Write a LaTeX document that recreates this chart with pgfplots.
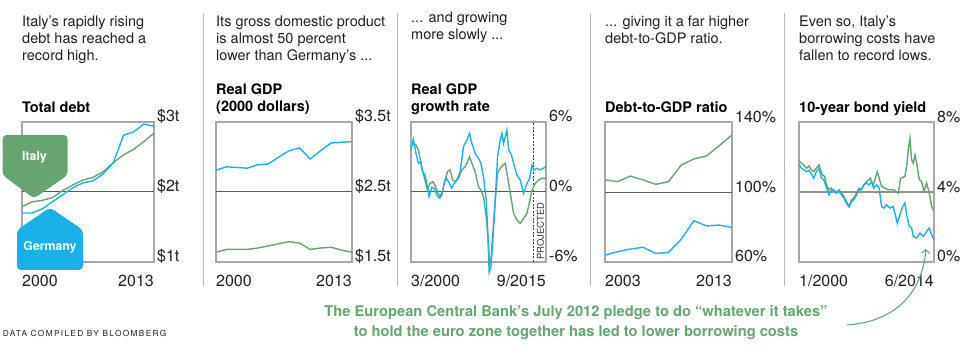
\documentclass[border=0pt]{standalone}
\usepackage{fontspec}
\setmainfont{TeX Gyre Heros}
\newfontfamily\footfont{TeX Gyre Heros}[LetterSpace=16]
\usepackage{pgfplots}
\pgfplotsset{compat=1.18}
\usetikzlibrary{arrows.meta}
\definecolor{itgreen}{HTML}{66A571}
\definecolor{deblue}{HTML}{19B2E8}
\definecolor{framegray}{HTML}{A8A8A8}
\definecolor{midgray}{HTML}{5A5A5A}
\definecolor{sepgray}{HTML}{B8B8B8}
\definecolor{txt}{HTML}{1E1E1E}
\newcommand\hdr{\fontsize{14.5}{17}\selectfont}
\newcommand\tickf{\fontsize{16}{16}\selectfont}
\newcommand\hl[3]{\node[anchor=base west,inner sep=0pt,font=\hdr,text=txt] at (#1pt,#2pt) {#3};}
\newcommand\bl[3]{\node[anchor=base west,inner sep=0pt,font=\hdr\bfseries,text=black] at (#1pt,#2pt) {#3};}
\pgfplotsset{
 panel/.style={
  scale only axis, height=140pt, anchor=south west,
  axis line style={framegray, line width=1.2pt},
  ytick pos=right, yticklabel pos=right,
  major tick length=0pt, tick style={draw=none},
  yticklabel style={anchor=base west, inner sep=0pt, xshift=3pt, font=\tickf, text=txt},
  xticklabel style={anchor=base west, inner sep=0pt, yshift=-25pt, font=\tickf, text=txt},
  extra x tick style={xticklabel style={anchor=base east}},
  every axis plot/.append style={line width=1.4pt, no markers},
 }}
\begin{document}
\begin{tikzpicture}
\path[use as bounding box] (0pt,0pt) rectangle (970pt,-355pt);
% separators
\foreach \sx in {203,397,590,784} {\draw[sepgray, line width=1pt] (\sx pt,-13pt) -- (\sx pt,-286pt);}
% headers
\hl{22}{-26.5}{Italy’s rapidly rising}
\hl{22}{-43.5}{debt has reached a}
\hl{22}{-60.5}{record high.}
\hl{216}{-26.5}{Its gross domestic product}
\hl{216}{-43.5}{is almost 50 percent}
\hl{216}{-60.5}{lower than Germany’s ...}
\hl{411}{-22.5}{... and growing}
\hl{411}{-39.5}{more slowly ...}
\hl{605}{-26.5}{... giving it a far higher}
\hl{605}{-43.5}{debt-to-GDP ratio.}
\hl{799}{-26.5}{Even so, Italy’s}
\hl{799}{-43.5}{borrowing costs have}
\hl{799}{-60.5}{fallen to record lows.}
\bl{22}{-112.5}{Total debt}
\bl{216}{-94.5}{Real GDP}
\bl{216}{-111.5}{(2000 dollars)}
\bl{411}{-94.5}{Real GDP}
\bl{411}{-111.5}{growth rate}
\bl{605}{-112.5}{Debt-to-GDP ratio}
\bl{799}{-112.5}{10-year bond yield}

% Panel 1: total debt
\begin{axis}[panel, at={(22pt,-262pt)}, width=132pt,
 xmin=2000, xmax=2013, ymin=1, ymax=3,
 xtick={2000}, xticklabels={2000}, extra x ticks={2013}, extra x tick labels={2013},
 ytick={1,2,3}, yticklabels={\$1t,\$2t,\$3t}]
\draw[midgray, line width=1pt] (rel axis cs:0,0.5) -- (rel axis cs:1,0.5);
\addplot[itgreen] coordinates {(2000,1.79) (2001,1.86) (2002,1.88) (2003,1.92) (2004,2.02) (2005,2.10) (2006,2.17) (2007,2.21) (2008,2.29) (2009,2.42) (2010,2.53) (2011,2.61) (2012,2.72) (2013,2.84)};
\addplot[deblue] coordinates {(2000,1.70) (2001,1.70) (2002,1.76) (2003,1.86) (2004,1.96) (2005,2.06) (2006,2.13) (2007,2.16) (2008,2.26) (2009,2.42) (2010,2.81) (2011,2.86) (2012,2.97) (2013,2.94)};
\end{axis}

% Panel 2: real GDP
\begin{axis}[panel, at={(216pt,-262pt)}, width=136pt,
 xmin=2000, xmax=2013, ymin=1.5, ymax=3.5,
 xtick={2000}, xticklabels={2000}, extra x ticks={2013}, extra x tick labels={2013},
 ytick={1.5,2.5,3.5}, yticklabels={\$1.5t,\$2.5t,\$3.5t}]
\draw[midgray, line width=1pt] (rel axis cs:0,0.5) -- (rel axis cs:1,0.5);
\addplot[itgreen] coordinates {(2000,1.64) (2001,1.68) (2002,1.68) (2003,1.68) (2004,1.70) (2005,1.73) (2006,1.76) (2007,1.79) (2008,1.77) (2009,1.68) (2010,1.70) (2011,1.71) (2012,1.67) (2013,1.64)};
\addplot[deblue] coordinates {(2000,2.81) (2001,2.86) (2002,2.85) (2003,2.84) (2004,2.89) (2005,2.90) (2006,3.00) (2007,3.09) (2008,3.13) (2009,2.97) (2010,3.09) (2011,3.20) (2012,3.21) (2013,3.22)};
\end{axis}

% Panel 3: growth rate
\begin{axis}[panel, at={(411pt,-262pt)}, width=135pt, clip=false,
 xmin=2000, xmax=2017, ymin=-6, ymax=6,
 xtick={2000}, xticklabels={3/2000}, extra x ticks={2017}, extra x tick labels={9/2015},
 ytick={-6,0,6}, yticklabels={-6\%,0\%,6\%}]
\draw[midgray, line width=1pt] (rel axis cs:0,0.5) -- (rel axis cs:1,0.5);
\draw[black!75, line width=0.6pt, dash pattern=on 2pt off 1.5pt] (axis cs:2015.4,-6) -- (axis cs:2015.4,6);
\addplot[itgreen] coordinates {(2000.00,3.89) (2000.29,4.17) (2000.63,4.03) (2000.93,3.6) (2001.22,2.6) (2001.47,1.74) (2001.77,1.03) (2002.06,0.17) (2002.40,0.74) (2002.74,0.89) (2003.03,0.6) (2003.32,0.03) (2003.66,-0.4) (2004.00,0.17) (2004.29,1.03) (2004.59,1.74) (2004.92,1.89) (2005.26,1.03) (2005.56,0.89) (2005.98,1.17) (2006.40,1.89) (2006.82,2.17) (2007.11,2.6) (2007.37,3.03) (2007.66,2.46) (2008.08,1.74) (2008.50,0.46) (2008.80,0.17) (2009.13,-0.4) (2009.47,-2.11) (2009.72,-4.11) (2009.89,-6.26) (2010.06,-5.83) (2010.31,-3.54) (2010.61,-0.69) (2010.90,1.6) (2011.24,2.03) (2011.57,2.31) (2011.87,2.46) (2012.16,1.31) (2012.50,-0.11) (2012.92,-1.83) (2013.34,-2.4) (2013.76,-2.69) (2014.18,-2.26) (2014.60,-1.83) (2014.94,-0.83) (2015.24,0.17) (2015.66,0.74) (2016.08,1.03) (2016.50,1.17) (2017.00,1.17)};
\addplot[deblue] coordinates {(2000.00,3.6) (2000.29,4.51) (2000.63,3.31) (2000.93,2.46) (2001.22,2.6) (2001.47,1.74) (2001.77,1.46) (2001.98,0.74) (2002.27,-0.4) (2002.61,0.4) (2002.95,0.31) (2003.24,-0.26) (2003.58,-0.54) (2003.87,-0.26) (2004.17,0.74) (2004.46,1.17) (2004.84,0.74) (2005.13,0.31) (2005.43,0.74) (2005.77,1.03) (2006.19,1.74) (2006.61,3.89) (2007.03,4.46) (2007.37,5.03) (2007.66,4.17) (2008.08,3.31) (2008.50,2.89) (2008.80,2.46) (2009.13,1.31) (2009.47,-0.69) (2009.64,-2.97) (2009.85,-6.89) (2010.06,-6.4) (2010.31,-4.11) (2010.61,-0.69) (2010.90,3.03) (2011.24,4.46) (2011.45,5.03) (2011.66,4.17) (2011.87,4.74) (2012.08,5.31) (2012.29,3.6) (2012.58,3.31) (2012.92,2.46) (2013.34,1.46) (2013.76,1.03) (2014.18,-0.11) (2014.52,0.6) (2014.94,1.17) (2015.24,2.31) (2015.45,1.89) (2015.87,2.03) (2016.29,1.89) (2017.00,2.17)};
\node[rotate=90, anchor=west, inner sep=0pt, font=\fontsize{9.4}{9.4}\selectfont, text=black!80] at (rel axis cs:0.958,0.015) {PROJECTED};
\end{axis}

% Panel 4: debt-to-GDP
\begin{axis}[panel, at={(605pt,-262pt)}, width=127pt,
 xmin=2003, xmax=2013, ymin=60, ymax=140,
 xtick={2003}, xticklabels={2003}, extra x ticks={2013}, extra x tick labels={2013},
 ytick={60,100,140}, yticklabels={60\%,100\%,140\%}]
\draw[midgray, line width=1pt] (rel axis cs:0,0.5) -- (rel axis cs:1,0.5);
\addplot[itgreen] coordinates {(2003,106.9) (2004,105.9) (2005,109.1) (2006,106.9) (2007,104.4) (2008,105.9) (2009,115.4) (2010,118.9) (2011,120.6) (2012,126.5) (2013,132.6)};
\addplot[deblue] coordinates {(2003,64.0) (2004,65.9) (2005,67.4) (2006,68.4) (2007,64.9) (2008,65.5) (2009,73.0) (2010,83.6) (2011,80.6) (2012,81.1) (2013,79.8)};
\end{axis}

% Panel 5: bond yield
\begin{axis}[panel, at={(799pt,-262pt)}, width=135pt,
 xmin=2000, xmax=2015, ymin=0, ymax=8,
 xtick={2000}, xticklabels={1/2000}, extra x ticks={2015}, extra x tick labels={6/2014},
 ytick={0,4,8}, yticklabels={0\%,4\%,8\%}]
\draw[gray!85, line width=1.3pt] (rel axis cs:0,0.5) -- (rel axis cs:1,0.5);
\addplot[itgreen] coordinates {(2000.00,5.80) (2000.26,5.65) (2000.52,5.55) (2000.82,5.36) (2001.11,5.49) (2001.37,5.27) (2001.63,5.17) (2001.93,5.36) (2002.23,5.55) (2002.38,5.27) (2002.60,4.98) (2002.86,4.89) (2003.04,4.41) (2003.34,4.13) (2003.60,4.22) (2003.86,4.03) (2004.16,3.94) (2004.46,4.13) (2004.72,3.94) (2004.98,3.75) (2005.27,3.46) (2005.57,3.17) (2005.83,3.56) (2006.09,3.65) (2006.39,3.94) (2006.68,4.22) (2006.94,4.13) (2007.20,4.41) (2007.50,4.60) (2007.80,4.71) (2007.95,4.79) (2008.24,4.32) (2008.54,4.89) (2008.69,5.17) (2008.91,4.79) (2009.17,4.32) (2009.54,4.22) (2009.91,4.13) (2010.47,4.13) (2011.03,3.94) (2011.29,4.79) (2011.77,4.89) (2011.96,5.46) (2012.14,6.41) (2012.33,7.07) (2012.51,5.84) (2012.70,5.65) (2012.89,6.12) (2013.07,5.65) (2013.37,4.71) (2013.63,4.60) (2013.89,4.03) (2014.18,4.51) (2014.48,3.94) (2014.74,3.17) (2015.00,2.89)};
\addplot[deblue] coordinates {(2000.00,5.61) (2000.26,5.36) (2000.52,5.27) (2000.82,5.17) (2001.11,5.23) (2001.37,5.04) (2001.63,4.79) (2001.93,5.17) (2002.23,5.36) (2002.49,4.79) (2002.75,4.71) (2003.04,4.28) (2003.34,3.84) (2003.60,4.09) (2003.86,4.13) (2004.16,3.94) (2004.46,4.03) (2004.72,3.84) (2004.98,3.65) (2005.27,3.37) (2005.57,3.14) (2005.83,3.46) (2006.09,3.56) (2006.39,3.84) (2006.68,4.13) (2006.94,4.16) (2007.20,4.41) (2007.50,4.51) (2007.80,4.41) (2008.06,4.60) (2008.32,4.22) (2008.61,4.41) (2008.91,4.22) (2009.17,3.17) (2009.43,3.08) (2009.73,3.27) (2010.10,3.08) (2010.47,3.17) (2010.92,2.22) (2011.21,2.70) (2011.51,3.17) (2011.77,3.37) (2011.96,2.70) (2012.25,2.03) (2012.51,1.94) (2012.70,1.46) (2013.07,1.37) (2013.44,1.65) (2013.81,1.46) (2014.18,1.75) (2014.48,1.94) (2014.74,1.56) (2015.00,1.27)};
\end{axis}

% badges
\fill[itgreen, rounded corners=4pt] (2.5pt,-135pt) -- (67.7pt,-135pt) -- (67.7pt,-175pt) -- (34pt,-198.5pt) -- (2.5pt,-175pt) -- cycle;
\node[white, font=\fontsize{12.3}{12.3}\selectfont\bfseries] at (34.5pt,-157pt) {Italy};
\fill[deblue, rounded corners=4pt] (50pt,-207.5pt) -- (83pt,-230pt) -- (83pt,-270pt) -- (17pt,-270pt) -- (17pt,-230pt) -- cycle;
\node[white, font=\fontsize{12.3}{12.3}\selectfont\bfseries] at (50pt,-247pt) {Germany};

% annotation
\node[anchor=base, inner sep=0pt, font=\fontsize{14.7}{14.7}\selectfont\bfseries, text=itgreen] at (576pt,-317pt) {The European Central Bank’s July 2012 pledge to do “whatever it takes”};
\node[anchor=base, inner sep=0pt, font=\fontsize{14.7}{14.7}\selectfont\bfseries, text=itgreen] at (576pt,-337pt) {to hold the euro zone together has led to lower borrowing costs};
\draw[itgreen, line width=1.1pt, -{Straight Barb[length=3.5pt,width=8pt]}] (847pt,-325pt) .. controls (893pt,-322pt) and (922pt,-295pt) .. (926pt,-249pt);
\node[anchor=base west, inner sep=0pt, font=\footfont\fontsize{8.3}{8.3}\selectfont, text=txt] at (2.7pt,-337pt) {DATA COMPILED BY BLOOMBERG};
\end{tikzpicture}
\end{document}
